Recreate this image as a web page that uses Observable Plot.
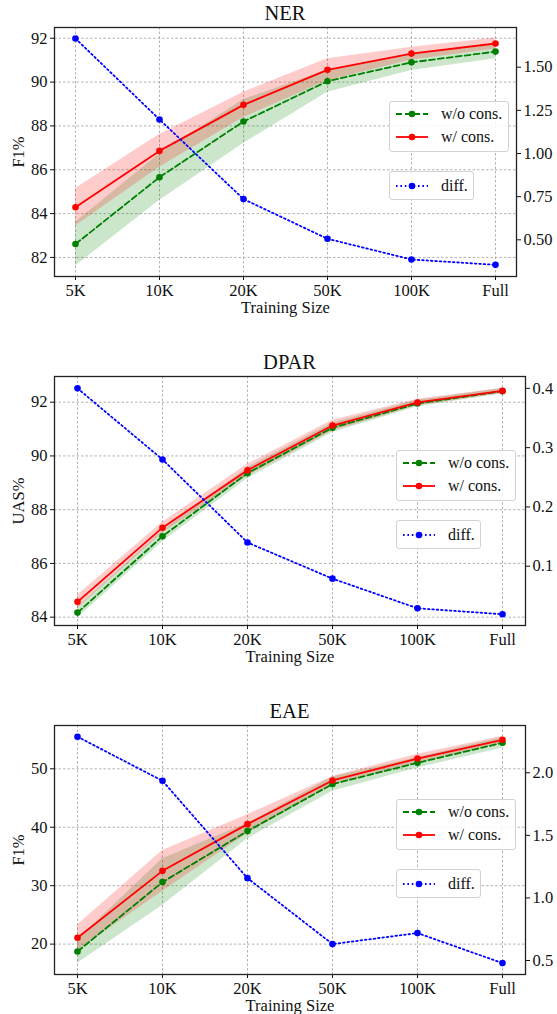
<!DOCTYPE html>
<html>
<head>
<meta charset="utf-8">
<script src="https://cdn.jsdelivr.net/npm/d3@7"></script>
<script src="https://cdn.jsdelivr.net/npm/@observablehq/plot@0.6"></script>
<style>
  html, body { margin: 0; padding: 0; background: #fff; }
  body { font-family: "Liberation Serif", "Times New Roman", serif; width: 557px; height: 1014px; overflow: hidden; }
  .panel { position: relative; width: 557px; height: 349px; }
  .panel > svg { position: absolute; left: 0; top: 0; overflow: visible; }
  .panel svg, .panel svg text { font-family: "Liberation Serif", "Times New Roman", serif !important; }
  .title { position: absolute; top: 3px; font-size: 20.5px; line-height: 1; transform: translateX(-50%); color: #111; white-space: nowrap; }
  .legend { position: absolute; box-sizing: border-box; border: 1px solid #d3d3d3; border-radius: 3px; background: rgba(255,255,255,0.85); font-size: 16px; color: #111; font-family: "Liberation Serif", "Times New Roman", serif; }
  .row { position: absolute; left: 0; height: 20px; display: flex; align-items: center; white-space: nowrap; }
  .row svg { position: static; margin-left: 5px; margin-right: 12px; }
</style>
</head>
<body>
<div id="chart"></div>
<script>
// ---------------- data ----------------
const sizes = ["5K", "10K", "20K", "50K", "100K", "Full"];

const titles = ["NER", "DPAR", "EAE"];
const yLabels = ["F1%", "UAS%", "F1%"];
const xLabel = "Training Size";
const legendLabels = ["w/o cons.", "w/ cons.", "diff."];

// NER
const nerWo    = [82.61, 85.66, 88.20, 90.04, 90.90, 91.39];
const nerWoStd = [1.00, 1.06, 1.00, 0.50, 0.37, 0.33];
const nerW     = [84.29, 86.86, 88.96, 90.56, 91.30, 91.76];
const nerWStd  = [0.86, 0.75, 0.58, 0.50, 0.29, 0.25];
const nerDiff  = [1.666, 1.197, 0.736, 0.506, 0.386, 0.355];

// DPAR
const dparWo    = [84.17, 87.01, 89.36, 91.05, 91.95, 92.41];
const dparWoStd = [0.20, 0.20, 0.20, 0.18, 0.12, 0.10];
const dparW     = [84.57, 87.33, 89.47, 91.13, 91.99, 92.42];
const dparWStd  = [0.25, 0.20, 0.22, 0.20, 0.12, 0.10];
const dparDiff  = [0.400, 0.280, 0.140, 0.079, 0.029, 0.019];

// EAE
const eaeWo    = [18.74, 30.61, 39.34, 47.38, 51.02, 54.45];
const eaeWoStd = [2.0, 4.0, 1.3, 1.2, 0.9, 0.9];
const eaeW     = [21.08, 32.54, 40.53, 48.00, 51.76, 54.96];
const eaeWStd  = [2.2, 3.5, 1.6, 0.7, 0.75, 0.6];
const eaeDiff  = [2.288, 1.936, 1.158, 0.631, 0.719, 0.479];

// axis ticks
const nerTicks  = [82, 84, 86, 88, 90, 92];
const nerRTicks = [0.50, 0.75, 1.00, 1.25, 1.50];
const dparTicks  = [84, 86, 88, 90, 92];
const dparRTicks = [0.1, 0.2, 0.3, 0.4];
const eaeTicks  = [20, 30, 40, 50];
const eaeRTicks = [0.5, 1.0, 1.5, 2.0];

// ---------------- config ----------------
const FONT = '"Liberation Serif", "Times New Roman", serif';
const FS = 16.5;
const panels = [
  { wo: nerWo, woStd: nerWoStd, w: nerW, wStd: nerWStd, diff: nerDiff,
    yDomain: [81.13, 92.49], yTicks: nerTicks, rDomain: [0.2875, 1.73], rTicks: nerRTicks, rDigits: 2,
    marginRight: 41, legendLeft: 389 },
  { wo: dparWo, woStd: dparWoStd, w: dparW, wStd: dparWStd, diff: dparDiff,
    yDomain: [83.69, 92.956], yTicks: dparTicks, rDomain: [0.0, 0.42], rTicks: dparRTicks, rDigits: 1,
    marginRight: 32, legendLeft: 396 },
  { wo: eaeWo, woStd: eaeWoStd, w: eaeW, wStd: eaeWStd, diff: eaeDiff,
    yDomain: [14.8, 57.41], yTicks: eaeTicks, rDomain: [0.388, 2.378], rTicks: eaeRTicks, rDigits: 1,
    marginRight: 32, legendLeft: 396 }
];

const W = 557, H = 349, MT = 27, MB = 73, ML = 54;
const gridStyle = { stroke: "#a0a0a0", strokeOpacity: 1, strokeWidth: 0.8, strokeDasharray: "2.5,2" };

function swatch(color, dash) {
  return `<svg width="34" height="12"><line x1="1" y1="6" x2="33" y2="6" stroke="${color}" stroke-width="1.8" ${dash ? `stroke-dasharray="${dash}"` : ""}/><circle cx="17" cy="6" r="3.3" fill="${color}"/></svg>`;
}

const root = document.getElementById("chart");
panels.forEach((p, k) => {
  const rows = sizes.map((s, i) => ({
    size: s,
    wo: p.wo[i], woLo: p.wo[i] - p.woStd[i], woHi: p.wo[i] + p.woStd[i],
    w: p.w[i], wLo: p.w[i] - p.wStd[i], wHi: p.w[i] + p.wStd[i],
    diff: p.diff[i]
  }));
  const [L0, L1] = p.yDomain, [R0, R1] = p.rDomain;
  const toLeft = v => L0 + (v - R0) * (L1 - L0) / (R1 - R0);
  const toRight = v => R0 + (v - L0) * (R1 - R0) / (L1 - L0);

  const chart = Plot.plot({
    width: W, height: H,
    marginTop: MT, marginBottom: MB, marginLeft: ML, marginRight: p.marginRight,
    style: { fontFamily: FONT, fontSize: FS + "px", color: "#111", background: "transparent" },
    x: { type: "point", domain: sizes, padding: 0.25, label: null },
    y: { domain: p.yDomain, label: null },
    marks: [
      Plot.gridX(sizes, gridStyle),
      Plot.gridY(p.yTicks, gridStyle),
      Plot.areaY(rows, { x: "size", y1: "woLo", y2: "woHi", fill: "green", fillOpacity: 0.2 }),
      Plot.areaY(rows, { x: "size", y1: "wLo", y2: "wHi", fill: "red", fillOpacity: 0.2 }),
      Plot.line(rows, { x: "size", y: "wo", stroke: "green", strokeWidth: 1.8, strokeDasharray: "6,3" }),
      Plot.dot(rows, { x: "size", y: "wo", fill: "green", r: 3.3 }),
      Plot.line(rows, { x: "size", y: "w", stroke: "red", strokeWidth: 1.8 }),
      Plot.dot(rows, { x: "size", y: "w", fill: "red", r: 3.3 }),
      Plot.line(rows, { x: "size", y: d => toLeft(d.diff), stroke: "blue", strokeWidth: 1.8, strokeDasharray: "1.6,2.8" }),
      Plot.dot(rows, { x: "size", y: d => toLeft(d.diff), fill: "blue", r: 3.3 }),
      Plot.axisX({ tickSize: 4, tickPadding: 4, fontSize: FS, fontFamily: FONT, label: xLabel, labelAnchor: "center", labelOffset: 36 }),
      Plot.axisY(p.yTicks, { tickSize: 4, tickPadding: 3, fontSize: FS, fontFamily: FONT, label: yLabels[k], labelAnchor: "center", labelArrow: "none", labelOffset: 42 }),
      Plot.axisY(p.rTicks.map(toLeft), { anchor: "right", tickSize: 4, tickPadding: 3, fontSize: FS, fontFamily: FONT, label: null,
        tickFormat: v => toRight(v).toFixed(p.rDigits) }),
      Plot.frame({ stroke: "#222", strokeWidth: 1.3 })
    ]
  });
  chart.querySelectorAll("text, g").forEach(el => {
    el.setAttribute("font-family", FONT);
    el.style.fontFamily = FONT;
  });
  chart.querySelectorAll("text").forEach(el => {
    el.style.fontSize = FS + "px";
    el.setAttribute("fill", "#111");
  });

  const div = document.createElement("div");
  div.className = "panel";
  div.appendChild(chart);

  const frameRight = W - p.marginRight;
  const t = document.createElement("div");
  t.className = "title";
  t.style.left = ((ML + frameRight) / 2) + "px";
  t.textContent = titles[k];
  div.appendChild(t);

  const lg1 = document.createElement("div");
  lg1.className = "legend";
  Object.assign(lg1.style, { left: p.legendLeft + "px", top: "101px", width: "120px", height: "51px" });
  lg1.innerHTML =
    `<div class="row" style="top:2px">${swatch("green", "6,3")}<span>${legendLabels[0]}</span></div>` +
    `<div class="row" style="top:25px">${swatch("red", "")}<span>${legendLabels[1]}</span></div>`;
  div.appendChild(lg1);

  const lg2 = document.createElement("div");
  lg2.className = "legend";
  Object.assign(lg2.style, { left: p.legendLeft + "px", top: "171px", width: "85px", height: "29px" });
  lg2.innerHTML = `<div class="row" style="top:4px">${swatch("blue", "1.6,2.8")}<span>${legendLabels[2]}</span></div>`;
  div.appendChild(lg2);

  root.appendChild(div);
});
</script>
</body>
</html>
